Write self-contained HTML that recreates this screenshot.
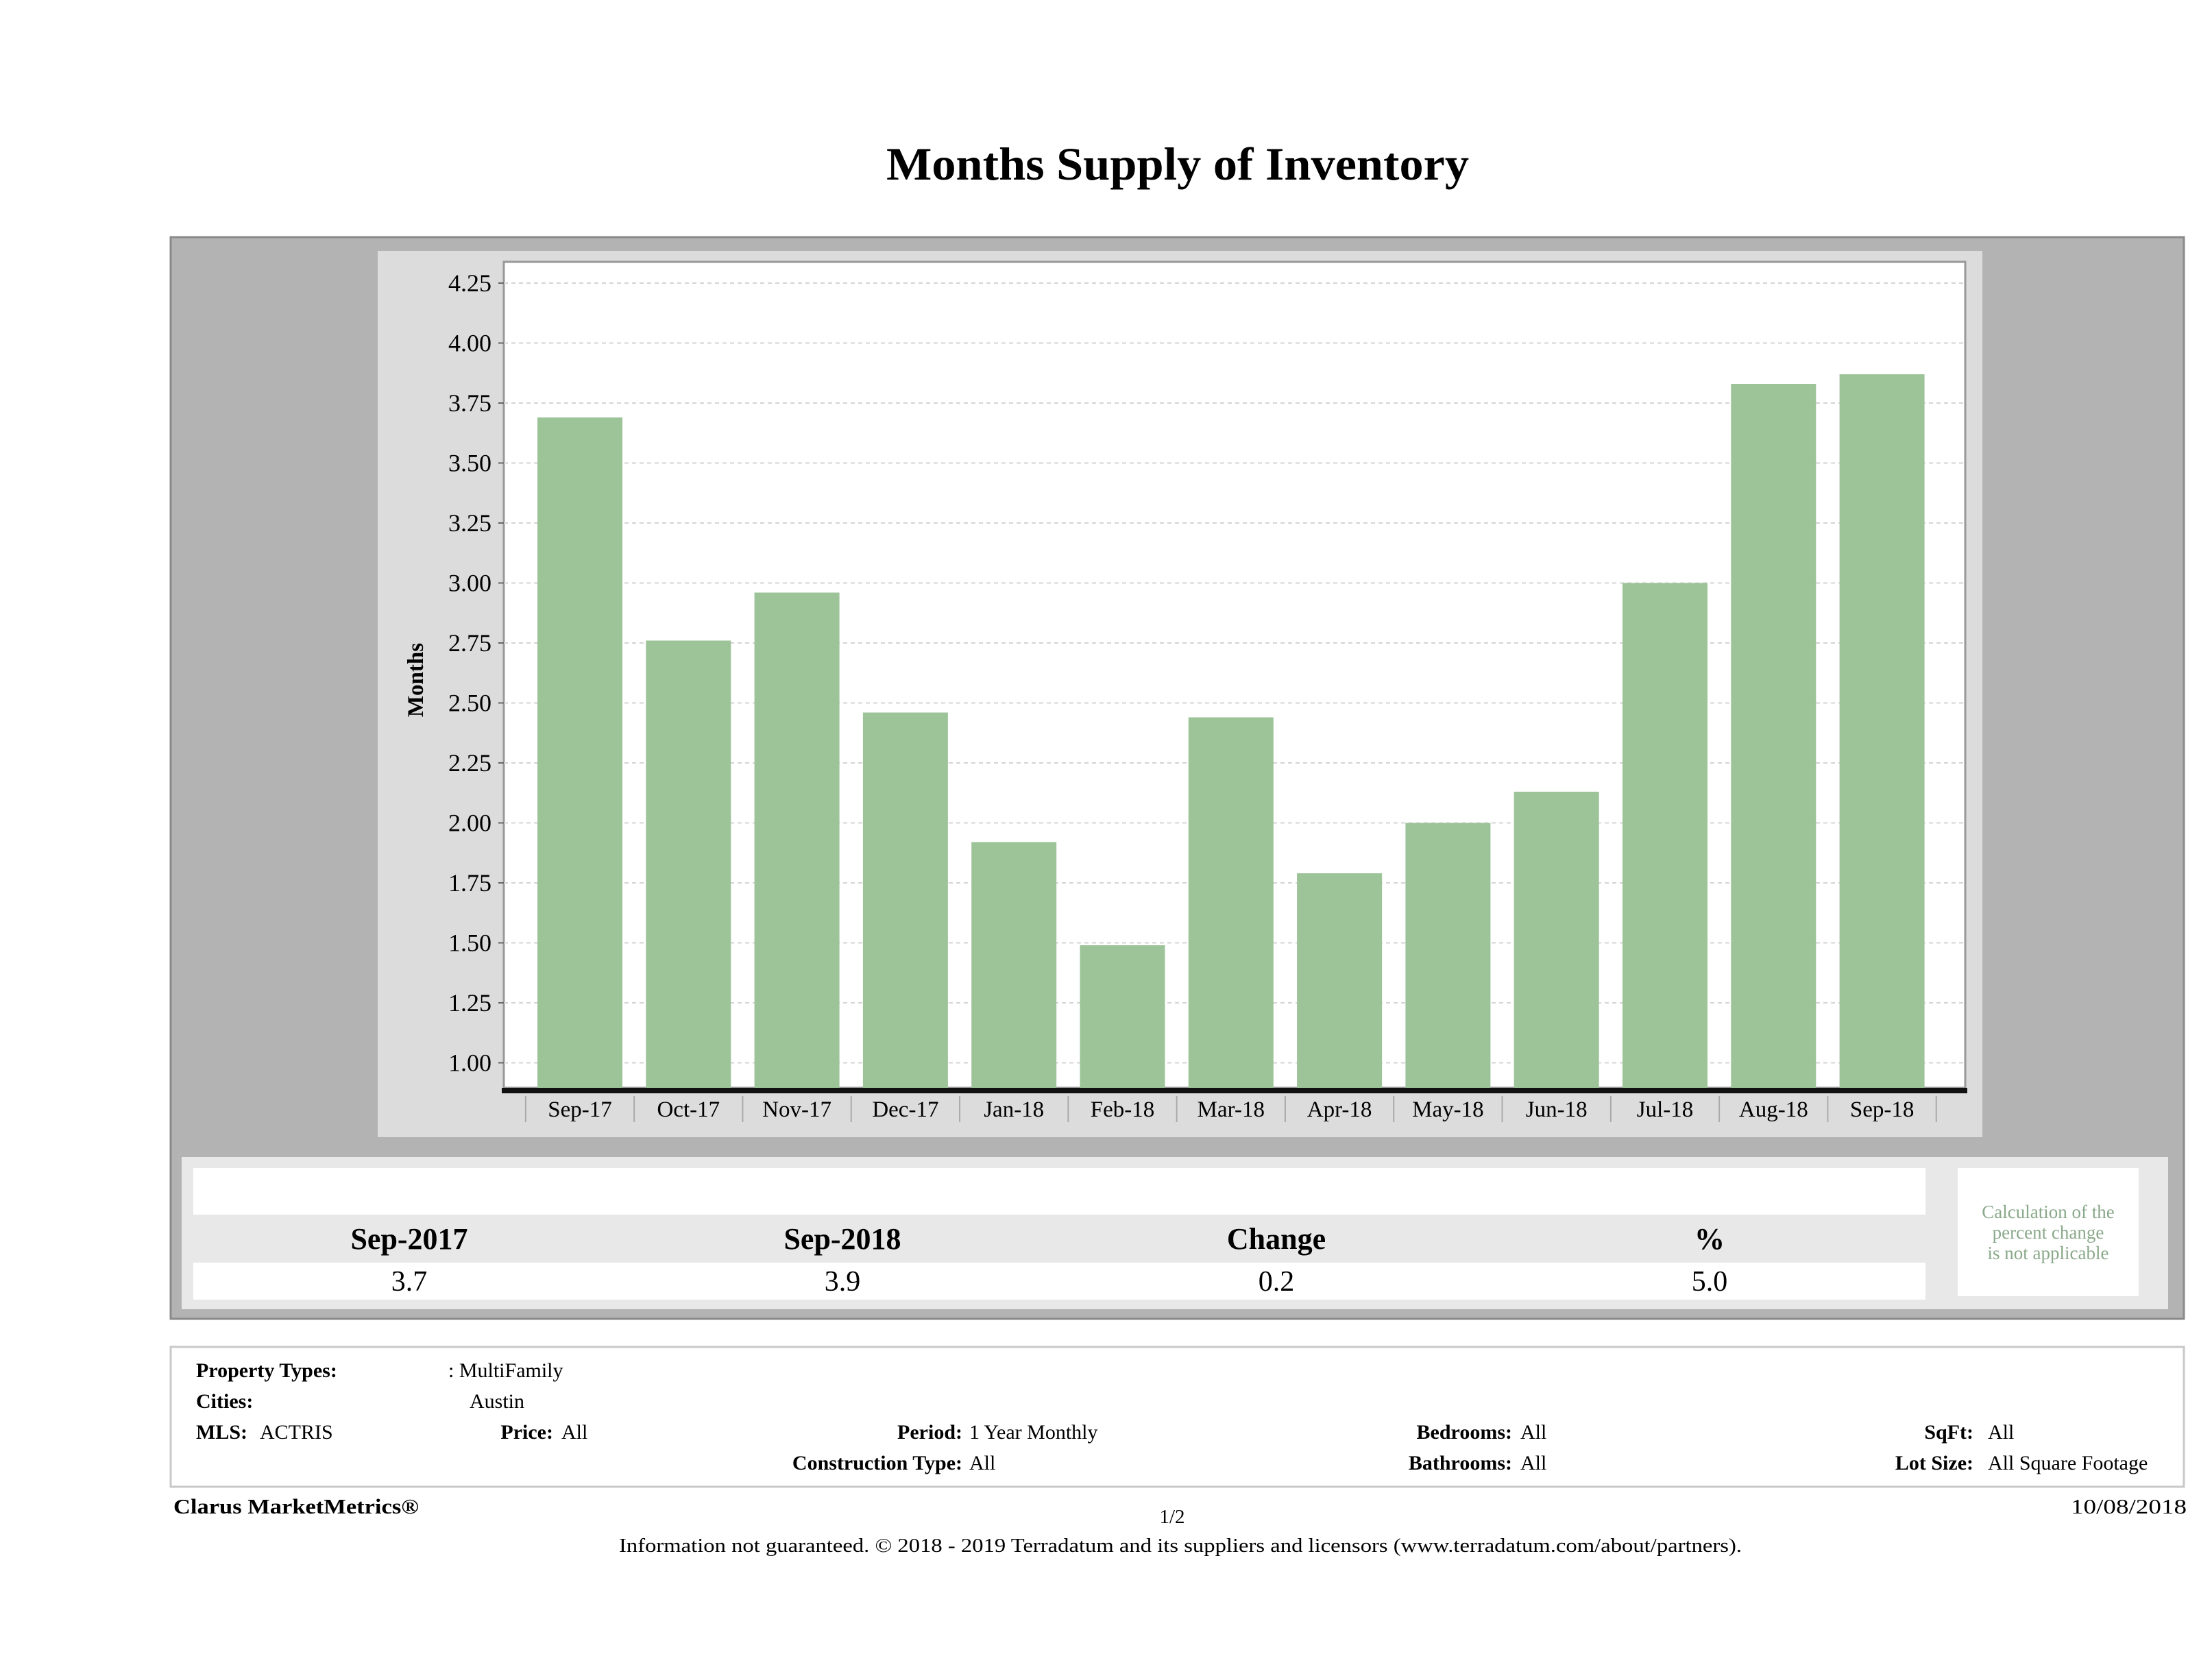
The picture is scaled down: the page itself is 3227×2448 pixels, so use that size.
<!DOCTYPE html>
<html><head><meta charset="utf-8"><style>
html,body{margin:0;padding:0;background:#fff;}
svg{display:block;font-family:"Liberation Serif",serif;}
</style></head><body>
<svg id="page" width="3227" height="2448" viewBox="0 0 3227 2448">
<text x="1718" y="262" font-size="68" font-weight="bold" text-anchor="middle" textLength="850" lengthAdjust="spacingAndGlyphs">Months Supply of Inventory</text>
<rect x="249" y="346" width="2937" height="1578" fill="#b3b3b3" stroke="#8a8a8a" stroke-width="3"/>
<rect x="551" y="366" width="2341" height="1293" fill="#dcdcdc"/>
<rect x="735" y="382" width="2132" height="1205" fill="#fff" stroke="#999" stroke-width="3"/>
<g id="grid"></g>
<g id="bars"></g>
<g id="yaxis"></g>
<g id="xaxis"></g>
<text transform="translate(617,992) rotate(-90)" font-size="33" font-weight="bold" text-anchor="middle">Months</text>

<rect x="265" y="1688" width="2898" height="222" fill="#e8e8e8"/>
<rect x="282" y="1704" width="2527" height="68" fill="#fff"/>
<rect x="282" y="1842" width="2527" height="54" fill="#fff"/>
<g font-size="40" text-anchor="middle">
<text x="597" y="1822" font-size="44" font-weight="bold">Sep-2017</text>
<text x="1229" y="1822" font-size="44" font-weight="bold">Sep-2018</text>
<text x="1862" y="1822" font-size="44" font-weight="bold">Change</text>
<text x="2494" y="1822" font-size="44" font-weight="bold">%</text>
<text x="597" y="1883" font-size="42">3.7</text>
<text x="1229" y="1883" font-size="42">3.9</text>
<text x="1862" y="1883" font-size="42">0.2</text>
<text x="2494" y="1883" font-size="42">5.0</text>
</g>
<rect x="2856" y="1704" width="264" height="187" fill="#fff"/>
<g font-size="27" fill="#8aa88a" text-anchor="middle">
<text x="2988" y="1777">Calculation of the</text>
<text x="2988" y="1807">percent change</text>
<text x="2988" y="1837">is not applicable</text>
</g>

<rect x="249" y="1965" width="2937" height="204" fill="#fff" stroke="#c8c8c8" stroke-width="3"/>
<g font-size="30">
<text x="286" y="2009" font-weight="bold">Property Types:</text>
<text x="654" y="2009">: MultiFamily</text>
<text x="286" y="2054" font-weight="bold">Cities:</text>
<text x="685" y="2054">Austin</text>
<text x="286" y="2099" font-weight="bold">MLS:</text>
<text x="379" y="2099">ACTRIS</text>
<text x="807" y="2099" font-weight="bold" text-anchor="end">Price:</text>
<text x="819" y="2099">All</text>
<text x="1404" y="2099" font-weight="bold" text-anchor="end">Period:</text>
<text x="1414" y="2099">1 Year Monthly</text>
<text x="2206" y="2099" font-weight="bold" text-anchor="end">Bedrooms:</text>
<text x="2218" y="2099">All</text>
<text x="2879" y="2099" font-weight="bold" text-anchor="end">SqFt:</text>
<text x="2900" y="2099">All</text>
<text x="1404" y="2144" font-weight="bold" text-anchor="end">Construction Type:</text>
<text x="1414" y="2144">All</text>
<text x="2206" y="2144" font-weight="bold" text-anchor="end">Bathrooms:</text>
<text x="2218" y="2144">All</text>
<text x="2879" y="2144" font-weight="bold" text-anchor="end">Lot Size:</text>
<text x="2900" y="2144">All Square Footage</text>
</g>
<text x="253" y="2208" font-size="31" font-weight="bold" textLength="358" lengthAdjust="spacingAndGlyphs">Clarus MarketMetrics®</text>
<text x="1710" y="2222" font-size="29" text-anchor="middle">1/2</text>
<text x="3021" y="2208" font-size="31" textLength="169" lengthAdjust="spacingAndGlyphs">10/08/2018</text>
<text x="903" y="2264" font-size="29" textLength="1638" lengthAdjust="spacingAndGlyphs">Information not guaranteed. © 2018 - 2019 Terradatum and its suppliers and licensors (www.terradatum.com/about/partners).</text>
</svg>
<script>
const categories = ["Sep-17","Oct-17","Nov-17","Dec-17","Jan-18","Feb-18","Mar-18","Apr-18","May-18","Jun-18","Jul-18","Aug-18","Sep-18"];
const values = [3.69,2.76,2.96,2.46,1.92,1.49,2.44,1.79,2.00,2.13,3.00,3.83,3.87];
const yTicks = [1.00,1.25,1.50,1.75,2.00,2.25,2.50,2.75,3.00,3.25,3.50,3.75,4.00,4.25];

const NS = "http://www.w3.org/2000/svg";
const plotL = 735, plotR = 2867, plotT = 382, plotB = 1587;
const yMax = 4.25, pxPerUnit = 350, yTop = 413;
const yMin = yMax - (plotB - yTop) / pxPerUnit;
function y(v){ return yTop + (yMax - v) * pxPerUnit; }
const pitch = 158.3, firstC = 846, barW = 124;
function x(i){ return firstC + i * pitch; }
function mk(tag, attrs, parent){ const e = document.createElementNS(NS, tag); for (const k in attrs) e.setAttribute(k, attrs[k]); parent.appendChild(e); return e; }

const grid = document.getElementById('grid'), bars = document.getElementById('bars');
const ya = document.getElementById('yaxis'), xa = document.getElementById('xaxis');
yTicks.forEach(t => {
  const gl = mk('line', {x1: plotL, x2: plotR, y1: y(t), y2: y(t), stroke: '#d4d4d4', 'stroke-width': 2, 'stroke-dasharray': '6 5'}, grid);
  
  
  const tk = mk('line', {x1: plotL - 8, x2: plotL, y1: y(t), y2: y(t), stroke: '#666', 'stroke-width': 2}, ya);
  
  
  const lb = mk('text', {x: plotL - 18, y: y(t) + 12, 'font-size': 36, 'text-anchor': 'end'}, ya);
  lb.textContent = t.toFixed(2);
  
  
});
values.forEach((v, i) => {
  const top = y(Math.max(v, yMin));
  const r = mk('rect', {x: x(i) - barW / 2, y: top, width: barW, height: plotB - top, fill: '#9dc399'}, bars);
  
  
});
const axisLine = mk('rect', {x: plotL - 3, y: plotB, width: plotR - plotL + 6, height: 8, fill: '#111'}, xa);


for (let i = 0; i <= categories.length; i++) {
  const sx = x(i) - pitch / 2;
  const s = mk('line', {x1: sx, x2: sx, y1: plotB + 12, y2: plotB + 50, stroke: '#aaa', 'stroke-width': 2}, xa);
  
  
}
categories.forEach((c, i) => {
  const t = mk('text', {x: x(i), y: plotB + 42, 'font-size': 33, 'text-anchor': 'middle'}, xa);
  t.textContent = c;
  
  
});
</script>
</body></html>
